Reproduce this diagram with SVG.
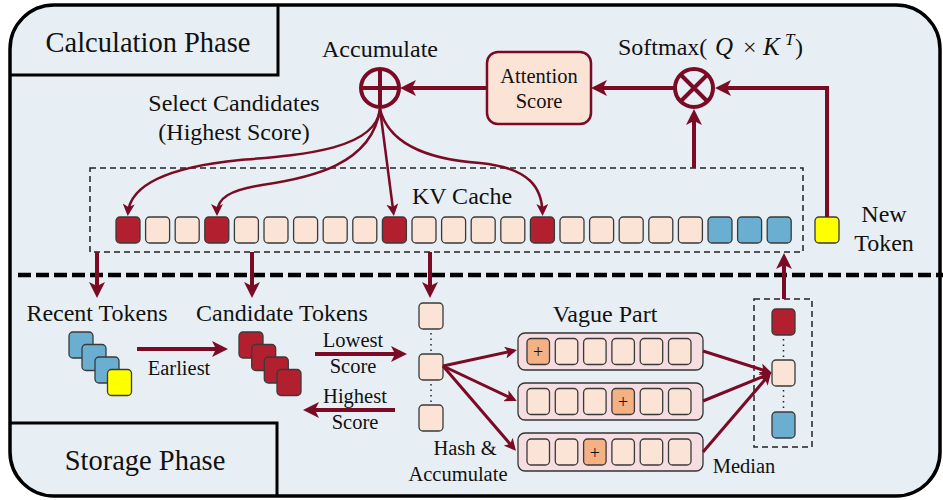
<svg xmlns="http://www.w3.org/2000/svg" width="943" height="500" viewBox="0 0 943 500">
<defs>
<style>
text{font-family:"Liberation Serif","Times New Roman",serif;fill:#111}
.t24{font-size:24px}
.t29{font-size:28.5px}
.t20{font-size:20.5px}
.mr{stroke:#7b0b25;fill:none}
.thick{stroke-width:4}
.mid{stroke-width:3}
.thin{stroke-width:2.5}
.cell{stroke:#3a3a3a;stroke-width:1.3}
.lt{fill:#fbe3d6}
.rd{fill:#b2202f}
.bl{fill:#6aaed1}
.yl{fill:#ffff00}
.hl{fill:#f4b183}
.row{fill:#f6dde1;stroke:#333;stroke-width:1.3}
.dash{fill:none;stroke:#222;stroke-width:1.5;stroke-dasharray:6 4}
.dots{stroke:#222;stroke-width:1.5;stroke-dasharray:1.5 4}
.plus{font-size:18px;text-anchor:middle}
</style>
<marker id="ah" viewBox="0 0 16 16" refX="11" refY="8" markerWidth="16" markerHeight="16" markerUnits="userSpaceOnUse" orient="auto">
<path d="M0,0 L16,8 L0,16 L4,8 z" fill="#7b0b25"/>
</marker>
<marker id="as" viewBox="0 0 12 12" refX="9" refY="6" markerWidth="12" markerHeight="12" markerUnits="userSpaceOnUse" orient="auto">
<path d="M0,0 L12,6 L0,12 L3,6 z" fill="#7b0b25"/>
</marker>
</defs>

<rect x="10" y="5" width="930" height="491" rx="44" fill="#e7eff4" stroke="#000" stroke-width="3.5"/>

<g id="calc-phase">
<path d="M10,75 H278 V5" fill="none" stroke="#000" stroke-width="3"/>
<text class="t29" x="148" y="52" text-anchor="middle">Calculation Phase</text>
</g>
<g id="storage-phase">
<path d="M10,423 H277 V496" fill="none" stroke="#000" stroke-width="3"/>
<text class="t29" x="145" y="470" text-anchor="middle">Storage Phase</text>
</g>

<line x1="18" y1="275" x2="943" y2="275" stroke="#000" stroke-width="4.5" stroke-dasharray="13 5"/>

<g id="accumulate">
<text class="t24" x="380" y="57" text-anchor="middle">Accumulate</text>
<circle cx="380" cy="88" r="19" fill="none" stroke="#7b0b25" stroke-width="4"/>
<path d="M361,88 H399 M380,69 V107" stroke="#7b0b25" stroke-width="4"/>
</g>

<g id="softmax">
<text class="t24" x="618" y="55">Softmax(<tspan x="715" font-style="italic" font-size="25">Q</tspan><tspan x="743">×</tspan><tspan x="763" font-style="italic" font-size="25">K</tspan><tspan x="785" y="45" font-style="italic" font-size="17">T</tspan><tspan x="795" y="55">)</tspan></text>
<circle cx="694" cy="88" r="19" fill="none" stroke="#7b0b25" stroke-width="4"/>
<path d="M680.5,74.5 L707.5,101.5 M707.5,74.5 L680.5,101.5" stroke="#7b0b25" stroke-width="4"/>
</g>

<g id="attention-score">
<rect x="487" y="52" width="104" height="72" rx="11" fill="#fbe3d6" stroke="#7b0b25" stroke-width="2.5"/>
<text class="t20" x="539" y="83" text-anchor="middle">Attention</text>
<text class="t20" x="539" y="108" text-anchor="middle">Score</text>
</g>

<g id="select-label">
<text class="t24" x="234" y="111" text-anchor="middle">Select Candidates</text>
<text class="t24" x="234" y="140" text-anchor="middle">(Highest Score)</text>
</g>

<g id="kv-cache">
<rect class="dash" x="90" y="168" width="713" height="84"/>
<text class="t24" x="462" y="204" text-anchor="middle">KV Cache</text>
<rect class="cell rd" x="116" y="217" width="24" height="26" rx="4"/>
<rect class="cell lt" x="145.6" y="217" width="24" height="26" rx="4"/>
<rect class="cell lt" x="175.2" y="217" width="24" height="26" rx="4"/>
<rect class="cell rd" x="204.8" y="217" width="24" height="26" rx="4"/>
<rect class="cell lt" x="234.4" y="217" width="24" height="26" rx="4"/>
<rect class="cell lt" x="264" y="217" width="24" height="26" rx="4"/>
<rect class="cell lt" x="293.6" y="217" width="24" height="26" rx="4"/>
<rect class="cell lt" x="323.2" y="217" width="24" height="26" rx="4"/>
<rect class="cell lt" x="352.8" y="217" width="24" height="26" rx="4"/>
<rect class="cell rd" x="382.4" y="217" width="24" height="26" rx="4"/>
<rect class="cell lt" x="412" y="217" width="24" height="26" rx="4"/>
<rect class="cell lt" x="441.6" y="217" width="24" height="26" rx="4"/>
<rect class="cell lt" x="471.2" y="217" width="24" height="26" rx="4"/>
<rect class="cell lt" x="500.8" y="217" width="24" height="26" rx="4"/>
<rect class="cell rd" x="530.4" y="217" width="24" height="26" rx="4"/>
<rect class="cell lt" x="560" y="217" width="24" height="26" rx="4"/>
<rect class="cell lt" x="589.6" y="217" width="24" height="26" rx="4"/>
<rect class="cell lt" x="619.2" y="217" width="24" height="26" rx="4"/>
<rect class="cell lt" x="648.8" y="217" width="24" height="26" rx="4"/>
<rect class="cell lt" x="678.4" y="217" width="24" height="26" rx="4"/>
<rect class="cell bl" x="708" y="217" width="24" height="26" rx="4"/>
<rect class="cell bl" x="737.6" y="217" width="24" height="26" rx="4"/>
<rect class="cell bl" x="767.2" y="217" width="24" height="26" rx="4"/>
</g>

<g id="new-token">
<rect class="cell yl" x="815" y="217" width="24" height="26" rx="4"/>
<text class="t24" x="884" y="222" text-anchor="middle">New</text>
<text class="t24" x="884" y="251" text-anchor="middle">Token</text>
</g>

<g id="recent-tokens">
<text class="t24" x="97" y="321" text-anchor="middle">Recent Tokens</text>
<rect class="cell bl" x="69" y="332" width="24" height="26" rx="4"/>
<rect class="cell bl" x="82" y="344.5" width="24" height="26" rx="4"/>
<rect class="cell bl" x="95" y="357" width="24" height="26" rx="4"/>
<rect class="cell yl" x="107.5" y="369.5" width="24" height="26" rx="4"/>
</g>

<g id="candidate-tokens">
<text class="t24" x="282" y="321" text-anchor="middle">Candidate Tokens</text>
<rect class="cell rd" x="239" y="332" width="24" height="26" rx="4"/>
<rect class="cell rd" x="251.7" y="344.5" width="24" height="26" rx="4"/>
<rect class="cell rd" x="264.3" y="357" width="24" height="26" rx="4"/>
<rect class="cell rd" x="277" y="369.5" width="24" height="26" rx="4"/>
</g>

<g id="hash-column">
<rect class="cell lt" x="419" y="303" width="24" height="26" rx="4"/>
<rect class="cell lt" x="419" y="354" width="24" height="26" rx="4"/>
<rect class="cell lt" x="419" y="405" width="24" height="26" rx="4"/>
<line class="dots" x1="431" y1="333" x2="431" y2="352"/>
<line class="dots" x1="431" y1="384" x2="431" y2="403"/>
<text class="t20" x="465" y="455" text-anchor="middle">Hash &amp;</text>
<text class="t20" x="458" y="481" text-anchor="middle">Accumulate</text>
</g>

<g id="vague-part">
<text class="t24" x="605" y="322" text-anchor="middle">Vague Part</text>
<rect class="row" x="518" y="333" width="185" height="37" rx="7"/>
<rect class="cell hl" x="527" y="338.5" width="22.5" height="26" rx="4"/>
<text class="plus" x="538.2" y="358">+</text>
<rect class="cell lt" x="555.3" y="338.5" width="22.5" height="26" rx="4"/>
<rect class="cell lt" x="583.6" y="338.5" width="22.5" height="26" rx="4"/>
<rect class="cell lt" x="611.9" y="338.5" width="22.5" height="26" rx="4"/>
<rect class="cell lt" x="640.2" y="338.5" width="22.5" height="26" rx="4"/>
<rect class="cell lt" x="668.5" y="338.5" width="22.5" height="26" rx="4"/>

<rect class="row" x="518" y="383" width="185" height="37" rx="7"/>
<rect class="cell lt" x="527" y="388.5" width="22.5" height="26" rx="4"/>
<rect class="cell lt" x="555.3" y="388.5" width="22.5" height="26" rx="4"/>
<rect class="cell lt" x="583.6" y="388.5" width="22.5" height="26" rx="4"/>
<rect class="cell hl" x="611.9" y="388.5" width="22.5" height="26" rx="4"/>
<text class="plus" x="623.1" y="408">+</text>
<rect class="cell lt" x="640.2" y="388.5" width="22.5" height="26" rx="4"/>
<rect class="cell lt" x="668.5" y="388.5" width="22.5" height="26" rx="4"/>

<rect class="row" x="518" y="433" width="185" height="38" rx="7"/>
<rect class="cell lt" x="527" y="439" width="22.5" height="26" rx="4"/>
<rect class="cell lt" x="555.3" y="439" width="22.5" height="26" rx="4"/>
<rect class="cell hl" x="583.6" y="439" width="22.5" height="26" rx="4"/>
<text class="plus" x="594.8" y="458.5">+</text>
<rect class="cell lt" x="611.9" y="439" width="22.5" height="26" rx="4"/>
<rect class="cell lt" x="640.2" y="439" width="22.5" height="26" rx="4"/>
<rect class="cell lt" x="668.5" y="439" width="22.5" height="26" rx="4"/>
</g>

<g id="median-column">
<rect class="dash" x="754" y="299" width="58" height="148"/>
<rect class="cell rd" x="772" y="309" width="23" height="26" rx="4"/>
<rect class="cell lt" x="772" y="360" width="23" height="26" rx="4"/>
<rect class="cell bl" x="772" y="412" width="23" height="26" rx="4"/>
<line class="dots" x1="783.5" y1="339" x2="783.5" y2="358"/>
<line class="dots" x1="783.5" y1="390" x2="783.5" y2="410"/>
<text class="t20" x="744" y="473" text-anchor="middle">Median</text>
</g>

<g id="edge-labels">
<text class="t20" x="179" y="375" text-anchor="middle">Earliest</text>
<text class="t20" x="353" y="347" text-anchor="middle">Lowest</text>
<text class="t20" x="353" y="373" text-anchor="middle">Score</text>
<text class="t20" x="355" y="403" text-anchor="middle">Highest</text>
<text class="t20" x="355" y="429" text-anchor="middle">Score</text>
</g>

<g id="connectors">
<path class="mr thick" d="M674,88 H596" marker-end="url(#ah)"/>
<path class="mr thick" d="M487,88 H405" marker-end="url(#ah)"/>
<path class="mr thick" d="M827,217 V88 H720" marker-end="url(#ah)"/>
<path class="mr thick" d="M694,168 V114" marker-end="url(#ah)"/>

<path class="mr thin" d="M380,109 C376,150 300,155 240,160 C160,168 130,188 128,213" marker-end="url(#as)"/>
<path class="mr thin" d="M380,109 C372,165 310,178 262,185 C230,190 217,198 217,213" marker-end="url(#as)"/>
<path class="mr thin" d="M380,109 L393.5,213" marker-end="url(#as)"/>
<path class="mr thin" d="M380,109 C390,150 440,160 480,163 C530,168 542,188 542.5,213" marker-end="url(#as)"/>

<path class="mr thick" d="M97,252 V293" marker-end="url(#ah)"/>
<path class="mr thick" d="M252,252 V293" marker-end="url(#ah)"/>
<path class="mr thick" d="M430,252 V293" marker-end="url(#ah)"/>
<path class="mr thick" d="M784,299 V258" marker-end="url(#ah)"/>

<path class="mr thick" d="M137,349 H223" marker-end="url(#ah)"/>
<path class="mr thick" d="M315,354 H402" marker-end="url(#ah)"/>
<path class="mr thick" d="M395,410 H308" marker-end="url(#ah)"/>

<path class="mr mid" d="M443,366 L514,350.7" marker-end="url(#as)"/>
<path class="mr mid" d="M443,366 L514,399.6" marker-end="url(#as)"/>
<path class="mr mid" d="M443,366 L514,448.5" marker-end="url(#as)"/>
<path class="mr mid" d="M703,351 L769,372" marker-end="url(#as)"/>
<path class="mr mid" d="M703,401 L769,374" marker-end="url(#as)"/>
<path class="mr mid" d="M703,452 L769,375" marker-end="url(#as)"/>
</g>
</svg>
